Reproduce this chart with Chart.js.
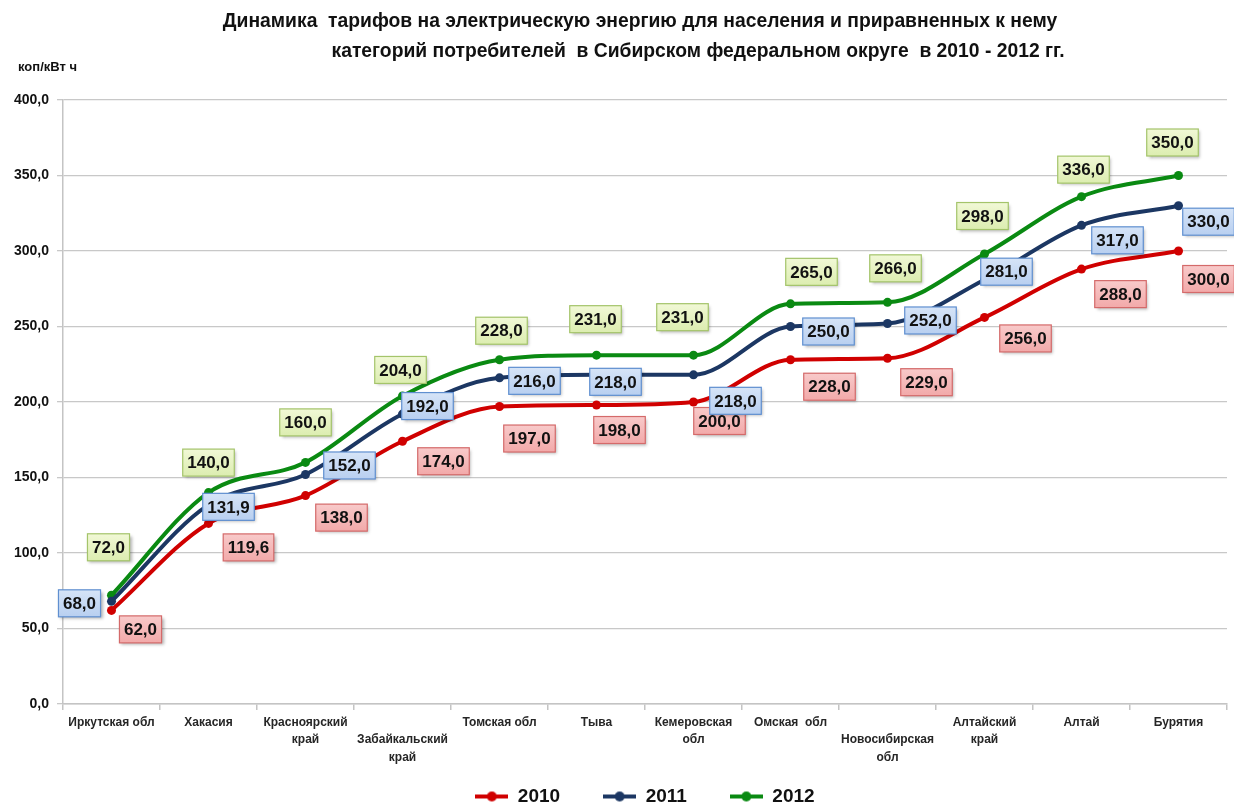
<!DOCTYPE html>
<html>
<head>
<meta charset="utf-8">
<script src="https://cdn.jsdelivr.net/npm/chart.js@4.4.1/dist/chart.umd.min.js"></script>
<style>
  html, body { margin: 0; padding: 0; background: #fff; }
</style>
</head>
<body>
<canvas id="myChart" width="1234" height="805"></canvas>
<script>
// data
const regions = [
  ['Иркутская обл'], ['Хакасия'], ['Красноярский', 'край'], ['', 'Забайкальский', 'край'],
  ['Томская обл'], ['Тыва'], ['Кемеровская', 'обл'], ['Омская  обл'],
  ['', 'Новосибирская', 'обл'], ['Алтайский', 'край'], ['Алтай'], ['Бурятия']
];
const years = ['2010', '2011', '2012'];
const tariff2010 = [62.0, 119.6, 138.0, 174.0, 197.0, 198.0, 200.0, 228.0, 229.0, 256.0, 288.0, 300.0];
const tariff2011 = [68.0, 131.9, 152.0, 192.0, 216.0, 218.0, 218.0, 250.0, 252.0, 281.0, 317.0, 330.0];
const tariff2012 = [72.0, 140.0, 160.0, 204.0, 228.0, 231.0, 231.0, 265.0, 266.0, 298.0, 336.0, 350.0];
const yTicks = [0, 50, 100, 150, 200, 250, 300, 350, 400];

const lineColors = ['#d00000', '#1c3763', '#0a8a12'];
const boxFill = [['#f8caca', '#f2a9a9'], ['#d6e4f7', '#b8cff0'], ['#f1f8d6', '#dcedb0']];
const boxBorder = ['#d46a6a', '#5f8fd0', '#a4c46a'];

// where each value box sits relative to its point (dx, dy)
const labelOffsets = [
  [[29,19],[40,24],[36,22],[41,20],[30,32],[23,25],[26,19],[39,27],[39,24],[41,21],[39,25],[30,28]],
  [[-32,2],[20,2],[44,-9],[25,-8],[35,3],[19,7],[42,26],[38,5],[43,-3],[22,-8],[36,15],[30,16]],
  [[-3,-48],[0,-30],[0,-40],[-2,-26],[2,-29],[-1,-36],[-11,-38],[21,-32],[8,-34],[-2,-38],[2,-27],[-6,-33]]
];

const fmt = v => v.toFixed(1).replace('.', ',');
const FONT = '"Liberation Sans", Arial, sans-serif';

// legend marker: short line with a dot
function legendImage(color) {
  const c = document.createElement('canvas');
  c.width = 33; c.height = 12;
  const g = c.getContext('2d');
  g.strokeStyle = color; g.lineWidth = 4;
  g.beginPath(); g.moveTo(0, 6); g.lineTo(33, 6); g.stroke();
  g.fillStyle = color;
  g.beginPath(); g.arc(16.5, 6, 5, 0, Math.PI * 2); g.fill();
  return c;
}

const valueBoxes = {
  id: 'valueBoxes',
  afterDatasetsDraw(chart) {
    const ctx = chart.ctx;
    ctx.save();
    ctx.font = 'bold 17px ' + FONT;
    ctx.textAlign = 'center';
    ctx.textBaseline = 'middle';
    chart.data.datasets.forEach((ds, di) => {
      const meta = chart.getDatasetMeta(di);
      meta.data.forEach((pt, i) => {
        if (!isFinite(pt.x) || !isFinite(pt.y)) return;
        const txt = fmt(ds.data[i]);
        const w = ctx.measureText(txt).width + 9;
        const h = 27;
        const cx = pt.x + labelOffsets[di][i][0];
        const cy = pt.y + labelOffsets[di][i][1];
        const x = cx - w / 2, y = cy - h / 2;
        const grad = ctx.createLinearGradient(0, y, 0, y + h);
        grad.addColorStop(0, boxFill[di][0]);
        grad.addColorStop(1, boxFill[di][1]);
        ctx.save();
        ctx.shadowColor = 'rgba(0,0,0,0.3)';
        ctx.shadowOffsetX = 2; ctx.shadowOffsetY = 2; ctx.shadowBlur = 3;
        ctx.fillStyle = grad;
        ctx.fillRect(x, y, w, h);
        ctx.restore();
        ctx.strokeStyle = boxBorder[di];
        ctx.lineWidth = 1.2;
        ctx.strokeRect(x, y, w, h);
        ctx.fillStyle = '#111';
        ctx.fillText(txt, cx, cy + 1);
      });
    });
    ctx.restore();
  }
};

const headings = {
  id: 'headings',
  afterDraw(chart) {
    const ctx = chart.ctx;
    ctx.save();
    ctx.fillStyle = '#111';
    ctx.textBaseline = 'middle';
    const l1 = 'Динамика  тарифов на электрическую энергию для населения и приравненных к нему';
    const l2 = 'категорий потребителей  в Сибирском федеральном округе  в 2010 - 2012 гг.';
    ctx.font = 'bold 18px ' + FONT;
    const size = 18 * 835 / ctx.measureText(l1).width;
    ctx.font = 'bold ' + size.toFixed(2) + 'px ' + FONT;
    ctx.textAlign = 'center';
    ctx.fillText(l1, 640, 22);
    ctx.fillText(l2, 698, 52);
    ctx.textAlign = 'left';
    ctx.font = 'bold 13px ' + FONT;
    ctx.fillText('коп/кВт ч', 18, 67);
    ctx.restore();
  }
};

const series = [tariff2010, tariff2011, tariff2012];

const ctx = document.getElementById('myChart').getContext('2d');
const myChart = new Chart(ctx, {
  type: 'line',
  data: {
    labels: regions,
    datasets: series.map((vals, i) => ({
      label: years[i],
      data: vals,
      borderColor: lineColors[i],
      backgroundColor: lineColors[i],
      borderWidth: 4,
      pointRadius: 4.5,
      pointBorderWidth: 0,
      pointBackgroundColor: lineColors[i],
      cubicInterpolationMode: 'monotone',
      fill: false
    }))
  },
  options: {
    responsive: false,
    animation: false,
    events: [],
    layout: { padding: { top: 100, left: 0, right: 7, bottom: -11 } },
    plugins: {
      title: { display: false },
      tooltip: { enabled: false },
      legend: {
        display: true,
        position: 'bottom',
        fullSize: false,
        labels: {
          usePointStyle: true,
          pointStyleWidth: 33,
          padding: 43,
          color: '#111',
          font: { family: FONT, size: 19, weight: 'bold' },
          generateLabels(chart) {
            return chart.data.datasets.map((ds, i) => ({
              text: ds.label,
              pointStyle: legendImage(lineColors[i]),
              fillStyle: lineColors[i],
              strokeStyle: lineColors[i],
              lineWidth: 0,
              fontColor: '#111',
              datasetIndex: i
            }));
          }
        }
      }
    },
    scales: {
      x: {
        offset: true,
        grid: { offset: true, drawOnChartArea: false, drawTicks: true, tickLength: 6, color: '#c4c4c4', lineWidth: 1.5 },
        border: { color: '#c4c4c4', width: 1.5 },
        ticks: {
          autoSkip: false,
          maxRotation: 0,
          padding: 4,
          color: '#262626',
          font: { family: FONT, size: 12, weight: 'bold', lineHeight: 1.45 }
        },
        afterFit(s) {
          s.height = 40;
          // the three-line labels run past the axis box, so don't clip them
          s._computeLabelArea = () => undefined;
        }
      },
      y: {
        min: 0,
        max: 400,
        afterBuildTicks(s) { s.ticks = yTicks.map(v => ({ value: v })); },
        grid: { color: '#c8c8c8', lineWidth: 1.3, tickLength: 6 },
        border: { color: '#c4c4c4', width: 1.5 },
        ticks: {
          padding: 8,
          color: '#111',
          font: { family: FONT, size: 14, weight: 'bold' },
          callback: v => fmt(v)
        },
        afterFit(s) { s.width = 63; }
      }
    }
  },
  plugins: [valueBoxes, headings]
});
</script>
</body>
</html>
